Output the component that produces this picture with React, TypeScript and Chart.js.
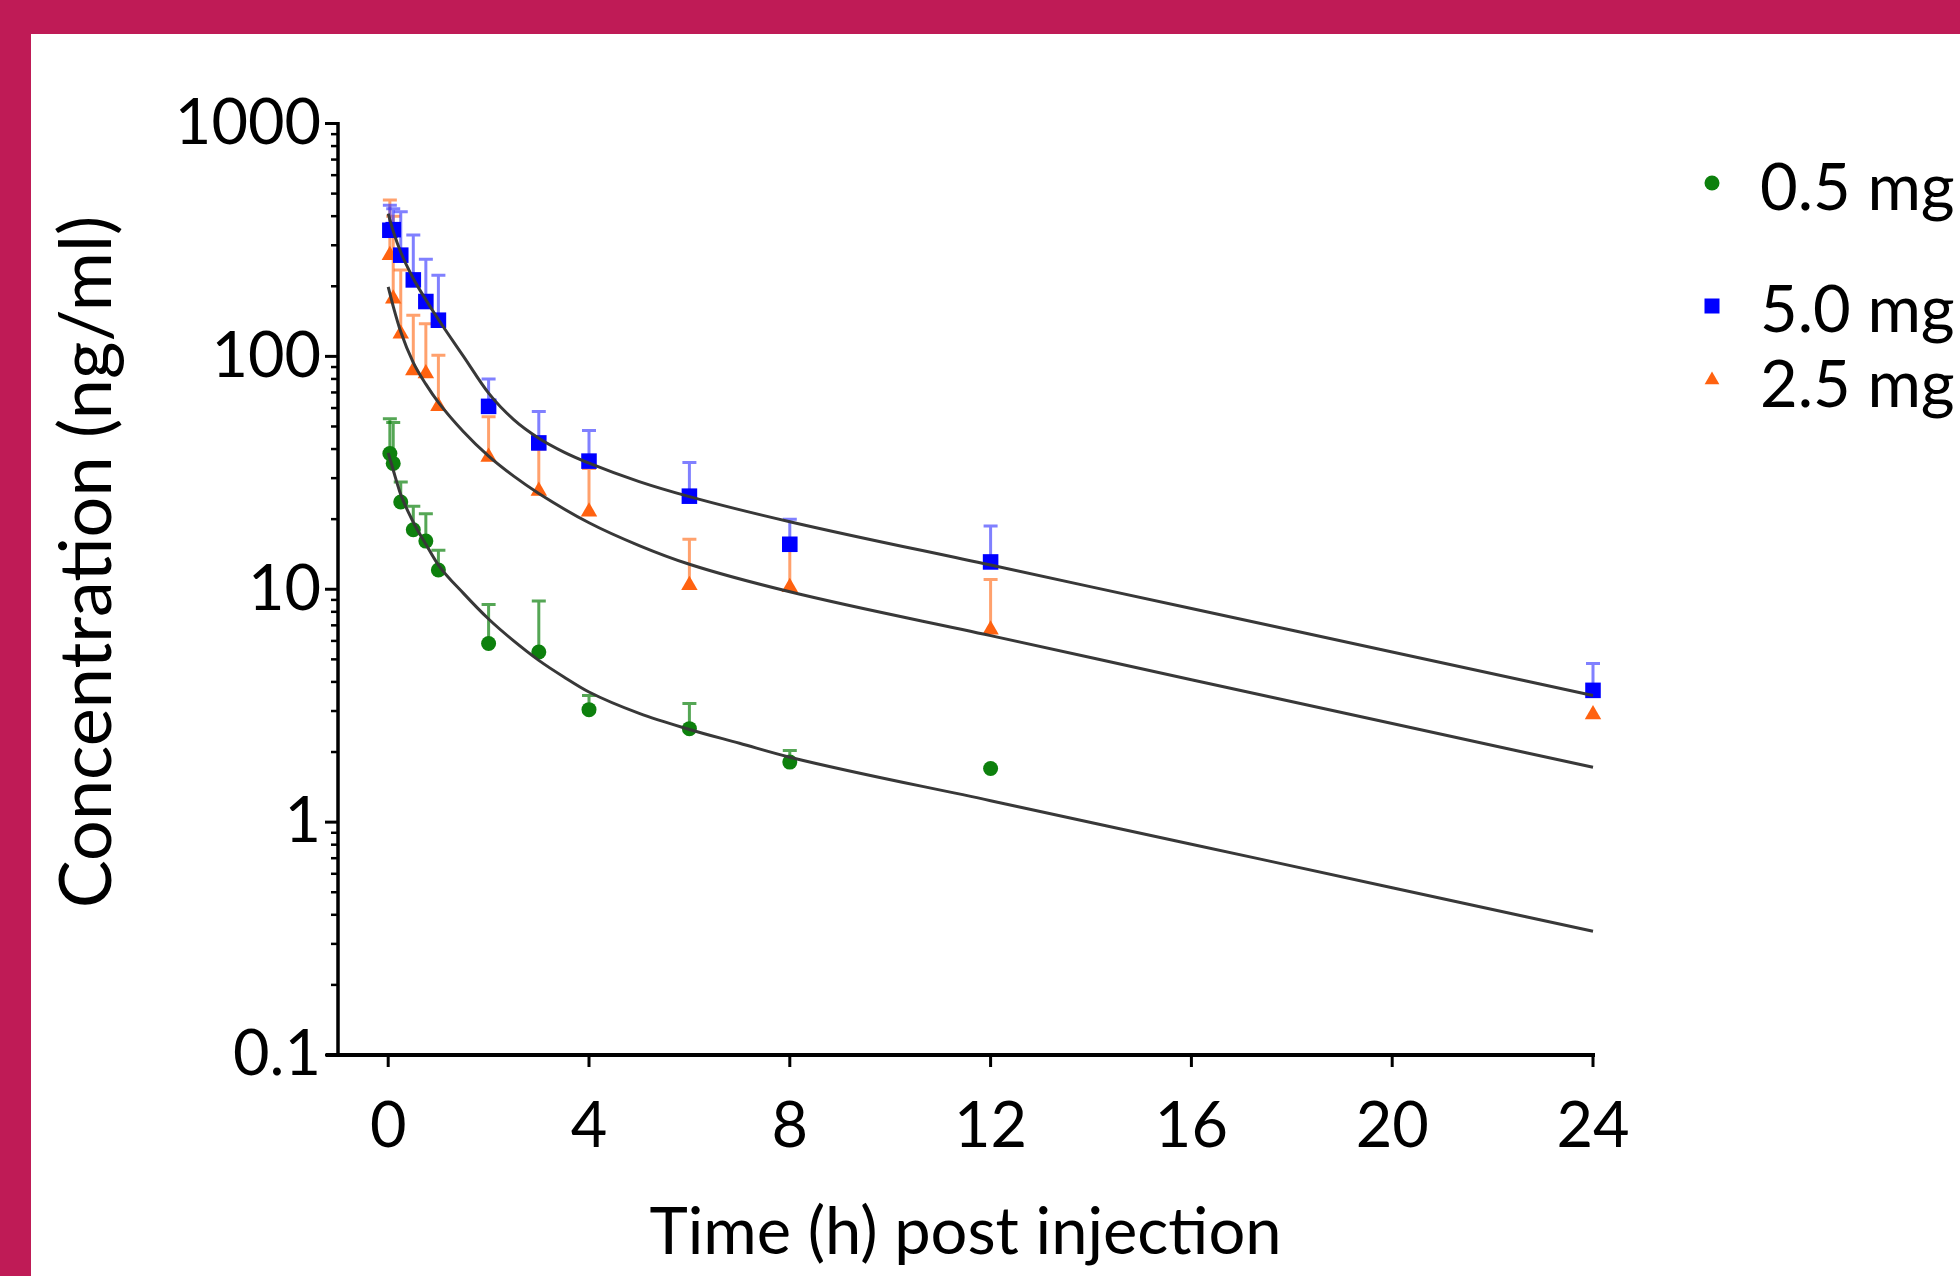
import React, { useEffect, useRef } from 'react';
import { Chart, registerables } from 'chart.js';

Chart.register(...registerables);

// ---------------- data ----------------
const TIMES = [0.033, 0.1, 0.25, 0.5, 0.75, 1, 2, 3, 4, 6, 8, 12, 24];

// 0.5 mg
const LOW_MEAN = [38.3, 34.7, 23.7, 18.0, 16.1, 12.1, 5.85, 5.38, 3.04, 2.52, 1.81, 1.7, null];
const LOW_UPPER = [54, 52, 28.9, 22.7, 21.1, 14.7, 8.6, 8.9, 3.5, 3.23, 2.03, null, null];
// 5.0 mg
const HIGH_MEAN = [348, 350, 272, 213, 172, 143, 61, 42.5, 35.5, 25.1, 15.6, 13.1, 3.68];
const HIGH_UPPER = [446, 430, 418, 332, 261, 223, 80, 58, 48, 35, 20, 18.7, 4.8];
// 2.5 mg
const MID_MEAN = [272, 177, 125, 87, 84.5, 61, 37, 26.4, 21.5, 10.4, 10.2, 6.7, 2.9];
const MID_UPPER = [469, 400, 235, 150, 138, 101, 55, 40, 33, 16.4, 15, 11, null];

// fitted curves
const FIT_HIGH_T = [0, 0.1, 0.25, 0.5, 0.75, 1, 1.5, 2, 2.5, 3, 3.5, 4, 5, 6, 8, 12, 16, 20, 24];
const FIT_HIGH_V = [410, 345, 280, 216, 175, 144, 100, 69.5, 53.5, 44.5, 38.8, 34.8, 29.0, 25.0, 19.5, 12.7, 8.26, 5.38, 3.5];
const FIT_MID_T = [0, 0.1, 0.25, 0.5, 0.75, 1, 1.5, 2, 2.5, 3, 4, 5, 6, 8, 12, 16, 20, 24];
const FIT_MID_V = [199, 164, 127.5, 94, 76, 63.5, 47.5, 37.3, 30.6, 25.8, 19.3, 15.4, 12.8, 9.75, 6.32, 4.09, 2.65, 1.72];
const FIT_LOW_T = [0, 0.1, 0.25, 0.5, 0.75, 1, 1.5, 2, 2.5, 3, 3.5, 4, 5, 6, 7, 8, 12, 16, 20, 24];
const FIT_LOW_V = [38.5, 32.5, 25.5, 19.4, 15.6, 12.7, 9.6, 7.45, 6.0, 4.95, 4.2, 3.62, 2.93, 2.5, 2.18, 1.9, 1.236, 0.804, 0.523, 0.34];

const X_TICKS = [0, 4, 8, 12, 16, 20, 24];
const Y_DECADES = [0.1, 1, 10, 100, 1000];
const Y_MINOR_MULT = [2, 3, 4, 5, 6, 7, 8, 9];
const LEGEND_LABELS = ['0.5 mg', '5.0 mg', '2.5 mg'];
const X_TITLE = 'Time (h) post injection';
const Y_TITLE = 'Concentration (ng/ml)';

// ---------------- styles ----------------
const FRAME = '#bf1b56';
const C_LOW = '#0d800d';
const C_HIGH = '#0000ff';
const C_MID = '#ff6210';
const E_LOW = 'rgba(13,128,13,0.7)';
const E_HIGH = 'rgba(60,60,255,0.65)';
const E_MID = 'rgba(255,110,30,0.65)';
const FIT_COLOR = '#383838';
const FONT = 'Lato';

const toXY = (ts: number[], vs: (number | null)[]) =>
  ts.map((t, i) => ({ x: t, y: vs[i] })).filter((p) => p.y !== null) as { x: number; y: number }[];

const isDecade = (v: number) => Math.abs(Math.log10(v) - Math.round(Math.log10(v))) < 1e-9;

const yTickValues: number[] = [];
Y_DECADES.forEach((d, i) => {
  yTickValues.push(d);
  if (i < Y_DECADES.length - 1) Y_MINOR_MULT.forEach((m) => yTickValues.push(m * d));
});

const customPlugin = {
  id: 'customAxesBars',
  beforeDatasetsDraw(chart: any) {
    const { ctx, chartArea: ca } = chart;
    const xs = chart.scales.x;
    const ys = chart.scales.y;
    ctx.save();
    // error bars
    const series: [(number | null)[], (number | null)[], string][] = [
      [LOW_MEAN, LOW_UPPER, E_LOW],
      [MID_MEAN, MID_UPPER, E_MID],
      [HIGH_MEAN, HIGH_UPPER, E_HIGH],
    ];
    ctx.lineWidth = 3;
    series.forEach(([mean, upper, col]) => {
      ctx.strokeStyle = col;
      TIMES.forEach((t, i) => {
        const m = mean[i];
        const u = upper[i];
        if (m === null || u === null) return;
        const x = xs.getPixelForValue(t);
        const y0 = ys.getPixelForValue(m);
        const y1 = ys.getPixelForValue(u);
        ctx.beginPath();
        ctx.moveTo(x, y0);
        ctx.lineTo(x, y1);
        ctx.moveTo(x - 7, y1);
        ctx.lineTo(x + 7, y1);
        ctx.stroke();
      });
    });

    // axes
    ctx.strokeStyle = '#000';
    const yTop = ys.getPixelForValue(1000);
    const yBot = ys.getPixelForValue(0.1);
    ctx.lineWidth = 3.5;
    ctx.beginPath();
    ctx.moveTo(ca.left, yTop - 1.5);
    ctx.lineTo(ca.left, yBot);
    ctx.stroke();
    ctx.lineWidth = 4;
    ctx.beginPath();
    ctx.moveTo(ca.left - 12, yBot);
    ctx.lineTo(xs.getPixelForValue(24) + 2, yBot);
    ctx.stroke();
    // y ticks
    yTickValues.forEach((v) => {
      const y = ys.getPixelForValue(v);
      const major = isDecade(v);
      ctx.lineWidth = major ? 3 : 2.5;
      ctx.beginPath();
      ctx.moveTo(ca.left - (major ? 13 : 7), y);
      ctx.lineTo(ca.left, y);
      ctx.stroke();
    });
    // x ticks
    ctx.lineWidth = 3;
    X_TICKS.forEach((v) => {
      const x = xs.getPixelForValue(v);
      ctx.beginPath();
      ctx.moveTo(x, yBot);
      ctx.lineTo(x, yBot + 12);
      ctx.stroke();
    });
    ctx.restore();
  },
  afterDraw(chart: any) {
    const { ctx } = chart;
    ctx.save();
    // y axis title
    ctx.save();
    ctx.translate(57, 528);
    ctx.rotate(-Math.PI / 2);
    ctx.fillStyle = '#000';
    ctx.font = `72px ${FONT}`;
    ctx.textAlign = 'center';
    ctx.textBaseline = 'middle';
    ctx.fillText(Y_TITLE, 0, 0);
    ctx.restore();

    // legend
    const mx = 1681;
    const rows = [149, 272, 346];
    const baselines = [176, 297.7, 372.7];
    ctx.fillStyle = C_LOW;
    ctx.beginPath();
    ctx.arc(mx, rows[0], 7.5, 0, Math.PI * 2);
    ctx.fill();
    ctx.fillStyle = C_HIGH;
    ctx.fillRect(mx - 7.5, rows[1] - 7.5, 15, 15);
    ctx.fillStyle = C_MID;
    const r = 8.5;
    ctx.beginPath();
    ctx.moveTo(mx, rows[2] - r);
    ctx.lineTo(mx + r * Math.sin((2 * Math.PI) / 3), rows[2] + r / 2);
    ctx.lineTo(mx - r * Math.sin((2 * Math.PI) / 3), rows[2] + r / 2);
    ctx.closePath();
    ctx.fill();
    ctx.fillStyle = '#000';
    ctx.font = `65px ${FONT}`;
    ctx.textAlign = 'left';
    ctx.textBaseline = 'alphabetic';
    LEGEND_LABELS.forEach((lab, i) => ctx.fillText(lab, 1729, baselines[i]));
    ctx.restore();
  },
};

const fitDataset = (label: string, t: number[], v: number[]) =>
  ({
    label,
    data: toXY(t, v),
    showLine: true,
    borderColor: FIT_COLOR,
    borderWidth: 3,
    pointRadius: 0,
    cubicInterpolationMode: 'monotone',
    order: 0,
    clip: false,
  } as any);

export default function App() {
  const ref = useRef<HTMLCanvasElement | null>(null);
  useEffect(() => {
    document.body.style.margin = '0';
    document.body.style.overflow = 'hidden';
    const canvas = ref.current;
    if (!canvas) return;
    const chart = new Chart(canvas, {
      type: 'scatter',
      data: {
        datasets: [
          fitDataset('fit 5.0', FIT_HIGH_T, FIT_HIGH_V),
          fitDataset('fit 2.5', FIT_MID_T, FIT_MID_V),
          fitDataset('fit 0.5', FIT_LOW_T, FIT_LOW_V),
          {
            label: '5.0 mg',
            data: toXY(TIMES, HIGH_MEAN),
            pointStyle: 'rect',
            pointRadius: 11,
            backgroundColor: C_HIGH,
            borderColor: C_HIGH,
            borderWidth: 0,
            order: 1,
            clip: false,
          } as any,
          {
            label: '2.5 mg',
            data: toXY(TIMES, MID_MEAN),
            pointStyle: 'triangle',
            pointRadius: 9.5,
            backgroundColor: C_MID,
            borderColor: C_MID,
            borderWidth: 0,
            order: 2,
            clip: false,
          } as any,
          {
            label: '0.5 mg',
            data: toXY(TIMES, LOW_MEAN),
            pointStyle: 'circle',
            pointRadius: 7.5,
            backgroundColor: C_LOW,
            borderColor: C_LOW,
            borderWidth: 0,
            order: 3,
            clip: false,
          } as any,
        ],
      },
      options: {
        responsive: false,
        animation: false,
        devicePixelRatio: 1,
        layout: { padding: { left: 0, top: 89.5, right: 367, bottom: 0 } },
        plugins: { legend: { display: false }, tooltip: { enabled: false } },
        scales: {
          x: {
            type: 'linear',
            min: -1,
            max: 24,
            afterBuildTicks: (s: any) => {
              s.ticks = X_TICKS.map((v) => ({ value: v }));
            },
            afterFit: (s: any) => {
              s.height = 221;
            },
            grid: { display: false },
            border: { display: false },
            ticks: {
              autoSkip: false,
              maxRotation: 0,
              padding: 26,
              color: '#000',
              font: { family: FONT, size: 63 },
            },
            title: {
              display: true,
              text: X_TITLE,
              color: '#000',
              font: { family: FONT, size: 65 },
              padding: { top: 0, bottom: 4 },
            },
          },
          y: {
            type: 'logarithmic',
            min: 0.1,
            max: 1000,
            afterBuildTicks: (s: any) => {
              s.ticks = yTickValues.map((v) => ({ value: v, major: isDecade(v) }));
            },
            afterFit: (s: any) => {
              s.width = 307;
            },
            grid: { display: false },
            border: { display: false },
            ticks: {
              autoSkip: false,
              padding: 9,
              color: '#000',
              font: { family: FONT, size: 63 },
              callback: (v: any) => (isDecade(Number(v)) ? String(Number(v)) : ''),
            },
            title: { display: false },
          },
        },
      } as any,
      plugins: [customPlugin],
    });
    return () => chart.destroy();
  }, []);

  return (
    <div style={{ position: 'absolute', left: 0, top: 0, width: 1960, height: 1276, background: FRAME, overflow: 'hidden' }}>
      <div style={{ position: 'absolute', left: 31, top: 34, width: 1929, height: 1242, background: '#fff' }}>
        <canvas ref={ref} width={1929} height={1242} style={{ display: 'block', width: 1929, height: 1242 }} />
      </div>
    </div>
  );
}
